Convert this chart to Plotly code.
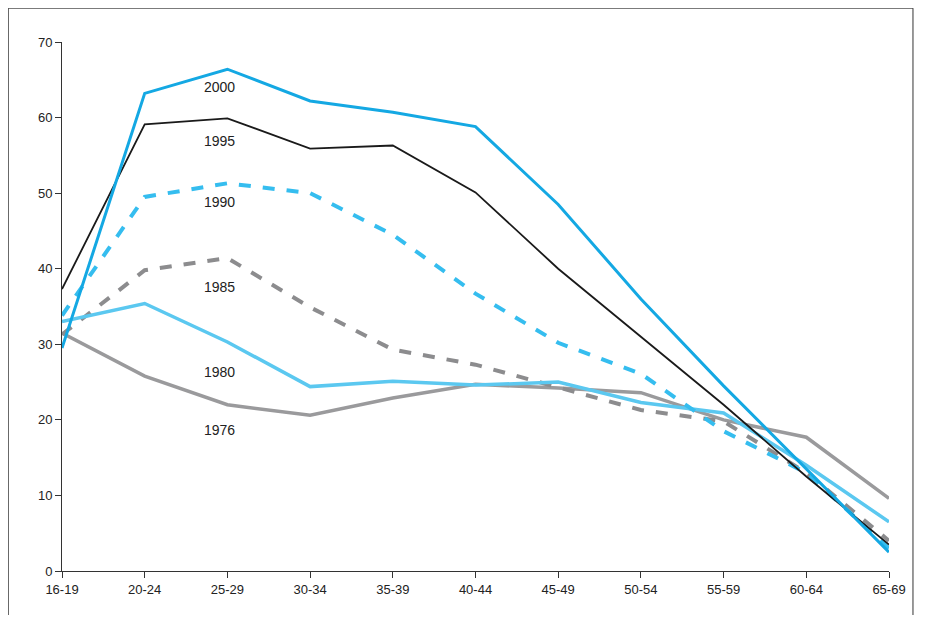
import plotly.graph_objects as go

ages = ["16-19","20-24","25-29","30-34","35-39","40-44","45-49","50-54","55-59","60-64","65-69"]
y2000 = [29.5, 63.2, 66.4, 62.2, 60.7, 58.8, 48.5, 36.0, 24.5, 13.5, 2.5]
y1995 = [37.3, 59.1, 59.9, 55.9, 56.3, 50.1, 40.0, 31.0, 22.0, 12.5, 3.5]
y1990 = [33.8, 49.5, 51.3, 50.0, 44.5, 36.7, 30.2, 26.1, 18.5, 13.0, 3.0]
y1985 = [31.3, 39.8, 41.4, 34.9, 29.3, 27.3, 24.3, 21.3, 19.8, 13.0, 4.0]
y1980 = [33.0, 35.4, 30.3, 24.4, 25.1, 24.6, 25.0, 22.3, 20.9, 14.0, 6.5]
y1976 = [31.5, 25.8, 22.0, 20.6, 22.9, 24.7, 24.2, 23.6, 20.0, 17.7, 9.6]
labels = ["2000","1995","1990","1985","1980","1976"]
label_y = [64.0, 56.9, 48.8, 37.6, 26.3, 18.7]

x = list(range(len(ages)))
fig = go.Figure()
specs = [
    (y1976, "#9a9a9c", 3.5, "solid"),
    (y1985, "#8c8c8e", 4, "dash"),
    (y1980, "#5bc8f0", 3.5, "solid"),
    (y1990, "#35bdef", 4, "dash"),
    (y1995, "#1a1a1a", 1.8, "solid"),
    (y2000, "#14a8e3", 3, "solid"),
]
for ys, c, w, d in specs:
    fig.add_trace(go.Scatter(x=x, y=ys, mode="lines", line=dict(color=c, width=w, dash=d), showlegend=False))
for t, ly in zip(labels, label_y):
    fig.add_annotation(x=1.9, y=ly, text=t, showarrow=False, font=dict(size=14, color="#222"))

for x0, y0, x1, y1 in [(-0.065, -0.2, -0.065, 1.064), (-0.065, 1.064, 1.029, 1.064), (1.029, 1.064, 1.029, -0.2)]:
    fig.add_shape(type="line", xref="paper", yref="paper", x0=x0, y0=y0, x1=x1, y1=y1,
                  line=dict(color="#333", width=1))

fig.update_layout(
    width=910, height=607, margin=dict(l=54, r=18, t=34, b=44),
    plot_bgcolor="white", paper_bgcolor="white",
    font=dict(family="Liberation Sans, Arial", size=13, color="#222"),
    xaxis=dict(range=[0, 10], tickvals=x, ticktext=ages, showgrid=False, zeroline=False,
               showline=True, linecolor="#333", ticks="outside", ticklen=6, tickcolor="#333"),
    yaxis=dict(range=[0, 70], dtick=10, showgrid=False, zeroline=False,
               showline=True, linecolor="#333", ticks="outside", ticklen=6, tickcolor="#333"),
)
fig.write_html("out.html")
